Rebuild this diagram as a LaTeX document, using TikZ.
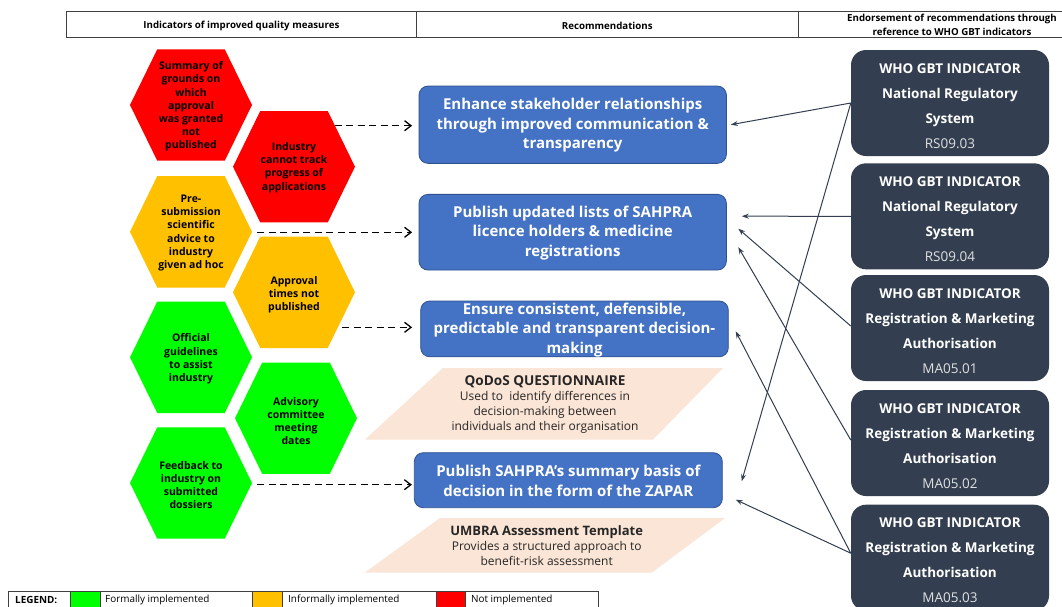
\documentclass[tikz,border=0pt]{standalone}
\usepackage{fontspec}
\setmainfont{Open Sans}
\usetikzlibrary{arrows.meta,calc}
\definecolor{hred}{HTML}{FF0000}
\definecolor{horange}{HTML}{FFC000}
\definecolor{hgreen}{HTML}{00FF00}
\definecolor{recblue}{HTML}{4472C4}
\definecolor{recedge}{HTML}{2F528F}
\definecolor{whodark}{HTML}{333F50}
\definecolor{peach}{HTML}{FBE5D6}
\newcommand\hexcell[3]{\fill[#3,shift={(#1,#2)}] (-61,0) -- (-33.75,-55.7) -- (33.75,-55.7) -- (61,0) -- (33.75,55.7) -- (-33.75,55.7) -- cycle;}
\tikzset{
 hextext/.style={align=center,font=\fontsize{10.5}{13.2}\selectfont\bfseries,inner sep=0},
 recbox/.style={draw=recedge,line width=0.8pt,fill=recblue,rounded corners=9pt,inner sep=0},
 rectext/.style={align=center,text=white,font=\fontsize{15}{19.7}\selectfont\bfseries,inner sep=0},
 whobox/.style={fill=whodark,rounded corners=15pt,minimum width=198pt,minimum height=106pt,inner sep=0},
 whotext/.style={align=center,text=white,font=\fontsize{13.5}{25}\selectfont\bfseries,inner sep=0},
 peachtext/.style={align=center,font=\fontsize{12}{15}\selectfont,text=black!85,inner sep=0},
 dasharrow/.style={draw=black,line width=1.3pt,dash pattern=on 7pt off 4.5pt,-{Straight Barb[length=6.5pt,width=10pt,line width=1.3pt]}},
 whoarrow/.style={draw=whodark,line width=1pt,-{Stealth[length=7pt,width=5pt]}},
 headtext/.style={font=\fontsize{9.7}{13.5}\selectfont\bfseries,align=center,inner sep=0},
 legtext/.style={font=\fontsize{9.9}{11}\selectfont,anchor=west,inner sep=0},
 gridline/.style={draw=black!75,line width=1pt},
}
\begin{document}
\begin{tikzpicture}[x=1pt,y=-1pt]
\useasboundingbox (0,0) rectangle (1062,606);
\clip (0,0) rectangle (1062,606);
\fill[white] (0,0) rectangle (1062,606);
% header
\draw[gridline] (66.7,11.7) rectangle (1075,37.7);
\draw[gridline] (416,11.7) -- (416,37.7);
\draw[gridline] (798.5,11.7) -- (798.5,37.7);
\node[headtext] (hd1) at (241.4,25.5) {Indicators of improved quality measures};
\node[headtext] (hd2) at (607.3,25.5) {Recommendations};
\node[headtext] (hd3) at (952,25) {Endorsement of recommendations through\\reference to WHO GBT indicators};
% hexagons
\hexcell{191}{105}{hred}
\hexcell{294}{166.7}{hred}
\hexcell{191}{231.8}{horange}
\hexcell{294}{292.3}{horange}
\hexcell{191}{357.3}{hgreen}
\hexcell{296}{418.2}{hgreen}
\hexcell{191}{483}{hgreen}
\node[hextext] (h1) at (191,106.5) {Summary of\\grounds on\\which\\approval\\was granted\\not\\published};
\node[hextext] (h2) at (294,167.5) {Industry\\cannot track\\progress of\\applications};
\node[hextext] (h3) at (191,233) {Pre-\\submission\\scientific\\advice to\\industry\\given ad hoc};
\node[hextext] (h4) at (294,295) {Approval\\times not\\published};
\node[hextext] (h5) at (191,359) {Official\\guidelines\\to assist\\industry};
\node[hextext] (h6) at (296,421) {Advisory\\committee\\meeting\\dates};
\node[hextext] (h7) at (191,485) {Feedback to\\industry on\\submitted\\dossiers};
% recommendation boxes
\node[recbox,minimum width=307.4pt,minimum height=77.3pt] (enh) at (572.7,124.7) {};
\node[rectext] (enht) at (572.7,125.3) {Enhance stakeholder relationships\\through improved communication \&\\transparency};
\node[recbox,minimum width=307.4pt,minimum height=75.7pt] (pub) at (572.7,232.2) {};
\node[rectext] (pubt) at (572.7,233) {Publish updated lists of SAHPRA\\licence holders \& medicine\\registrations};
\node[recbox,minimum width=307.6pt,minimum height=55.7pt] (ens) at (574.5,328.9) {};
\node[rectext] (enst) at (574.5,330) {Ensure consistent, defensible,\\predictable and transparent decision-\\making};
\node[recbox,minimum width=308pt,minimum height=55pt] (zap) at (568.3,480.2) {};
\node[rectext] (zapt) at (568.3,480.8) {Publish SAHPRA’s summary basis of\\decision in the form of the ZAPAR};
% peach tools
\fill[peach] (443,368) -- (723,368) -- (653,439.5) -- (365,439.5) -- cycle;
\node[peachtext] (qod) at (545,404.7) {{\fontsize{13.6}{15}\selectfont\bfseries QoDoS QUESTIONNAIRE}\\Used to\ \ identify differences in\\decision-making between\\individuals and their organisation};
\fill[peach] (440,518) -- (725,518) -- (652,572.5) -- (365,572.5) -- cycle;
\node[peachtext] (umb) at (546.7,545.8) {{\fontsize{13}{15}\selectfont\bfseries UMBRA Assessment Template}\\Provides a structured approach to\\benefit-risk assessment};
% WHO boxes
\node[whobox] (rs03) at (950,103) {};
\node[whotext] (rs03t) at (950,105.8) {WHO GBT INDICATOR\\National Regulatory\\System\\{\mdseries\color{black!12}RS09.03}};
\node[whobox] (rs04) at (950,216.3) {};
\node[whotext] (rs04t) at (950,219.1) {WHO GBT INDICATOR\\National Regulatory\\System\\{\mdseries\color{black!12}RS09.04}};
\node[whobox] (ma01) at (950,328) {};
\node[whotext] (ma01t) at (950,330.8) {WHO GBT INDICATOR\\Registration \& Marketing\\Authorisation\\{\mdseries\color{black!12}MA05.01}};
\node[whobox] (ma02) at (950,443) {};
\node[whotext] (ma02t) at (950,445.8) {WHO GBT INDICATOR\\Registration \& Marketing\\Authorisation\\{\mdseries\color{black!12}MA05.02}};
\node[whobox] (ma03) at (950,557.7) {};
\node[whotext] (ma03t) at (950,560.5) {WHO GBT INDICATOR\\Registration \& Marketing\\Authorisation\\{\mdseries\color{black!12}MA05.03}};
% dashed arrows
\coordinate (d1s) at (334.6,125.7);
\coordinate (d2s) at (257.4,232.3);
\coordinate (d3s) at (342,327.3);
\coordinate (d4s) at (257.4,484.7);
\draw[dasharrow,shorten >=6.5pt] (d1s) -- (enh.west |- d1s);
\draw[dasharrow,shorten >=6.5pt] (d2s) -- (pub.west |- d2s);
\draw[dasharrow,shorten >=8.2pt] (d3s) -- (ens.west |- d3s);
\draw[dasharrow,shorten >=2pt] (d4s) -- (zap.west |- d4s);
% solid arrows
\draw[whoarrow] (rs03.west) -- ($(enh.east)+(4,0)$);
\draw[whoarrow] (rs04.west) -- ($(pub.east)+(15,-16)$);
\draw[whoarrow] (rs03.west) -- ($(zap.east)+(19,1)$);
\draw[whoarrow] ($(ma01.west)+(0,-2)$) -- ($(pub.east)+(11.5,-3.5)$);
\draw[whoarrow] ($(ma02.west)+(0,-3)$) -- ($(pub.east)+(11.5,15)$);
\draw[whoarrow] ($(ma03.west)+(0,-4.5)$) -- ($(ens.east)+(7,2.4)$);
\draw[whoarrow] ($(ma03.west)+(0,-4.5)$) -- ($(zap.east)+(13,19.5)$);
% legend
\fill[hgreen] (70.4,591) rectangle (100,614);
\fill[horange] (252.3,591) rectangle (282.7,614);
\fill[hred] (436,591) rectangle (465.8,614);
\draw[gridline] (8.7,591) rectangle (598,614);
\foreach \lx in {70.4,100,252.3,282.7,436,465.8} {\draw[gridline] (\lx,591) -- (\lx,614);}
\node[legtext,font=\fontsize{9.9}{11}\selectfont\bfseries] (lg0) at (15,599.5) {LEGEND:};
\node[legtext] (lg1) at (105,599.5) {Formally implemented};
\node[legtext] (lg2) at (288,599.5) {Informally implemented};
\node[legtext] (lg3) at (471,599.5) {Not implemented};
\end{tikzpicture}
\end{document}
